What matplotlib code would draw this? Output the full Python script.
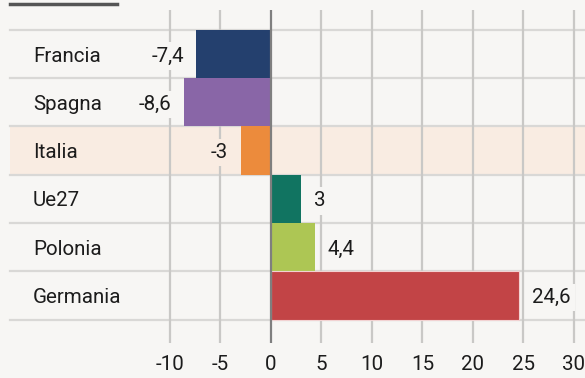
import matplotlib
matplotlib.use('Agg')
import matplotlib.pyplot as plt
from matplotlib.lines import Line2D

plt.rcParams['font.family'] = ['Roboto', 'DejaVu Sans']

# dati
paesi = ['Francia', 'Spagna', 'Italia', 'Ue27', 'Polonia', 'Germania']
valori = [-7.4, -8.6, -3, 3, 4.4, 24.6]
etichette = ['-7,4', '-8,6', '-3', '3', '4,4', '24,6']
colori = ['#24406e', '#8966a7', '#ec8b3c', '#117461', '#adc654', '#c24446']
tick_x = [-10, -5, 0, 5, 10, 15, 20, 25, 30]

W, H = 585, 378
bg = '#f7f6f4'
peach = '#f9ece2'
fs = 14.8

# pixel -> dati
x0, sx = 271, 10.1
y0, sy = 54, 48.3

fig = plt.figure(figsize=(W / 100, H / 100), dpi=100, facecolor=bg)
ax = fig.add_axes([0, 0, 1, 1])
ax.set_facecolor(bg)
ax.set_xlim((0 - x0) / sx, (W - x0) / sx)
ax.set_ylim((H - y0) / sy, (0 - y0) / sy)
ax.axis('off')

xmin_frac = 10 / W

# riga Italia evidenziata
i_it = paesi.index('Italia')
ax.axhspan(i_it - 0.5, i_it + 0.5, xmin=xmin_frac, xmax=1, color=peach, zorder=0, lw=0)

# linee orizzontali
for i in range(len(paesi) + 1):
    ax.axhline(i - 0.5, xmin=xmin_frac, xmax=1, color='#d9d8d6', lw=1.6, zorder=1)

# linee verticali
ytop = (10 - y0) / sy
ybot = (343 - y0) / sy
for t in tick_x:
    c = '#7f7f7f' if t == 0 else '#c9c8c6'
    ax.plot([t, t], [ytop, ybot], color=c, lw=1.6, zorder=4 if t == 0 else 1.5,
            solid_capstyle='butt')
    ax.text(t, (362 - y0) / sy, str(t), ha='center', va='center_baseline',
            fontsize=fs, color='#1c1c1c')

# barre
edges = ['none'] * 5 + ['#f2d2d2']
ax.barh(range(len(paesi)), valori, height=1.0, color=colori, edgecolor=edges,
        lw=0.8, zorder=3)

# etichette
for i, (p, v, lab) in enumerate(zip(paesi, valori, etichette)):
    ax.text((33 - x0) / sx, i, p, ha='left', va='center_baseline', fontsize=fs,
            color='#1c1c1c')
    fc = peach if p == 'Italia' else bg
    off = 9 if v > 0 else -9
    ax.annotate(lab, (v, i), xytext=(off, 0), textcoords='offset points',
                ha='left' if v > 0 else 'right', va='center_baseline', fontsize=fs,
                color='#1c1c1c', zorder=5,
                bbox=dict(boxstyle='square,pad=0.2', fc=fc, ec='none'))

# linea in alto a sinistra
fig.add_artist(Line2D([10 / W, 117 / W], [1 - 3.5 / H, 1 - 3.5 / H],
                      color='#555555', lw=2.5))

plt.savefig('out.png', dpi=100, facecolor=bg)
